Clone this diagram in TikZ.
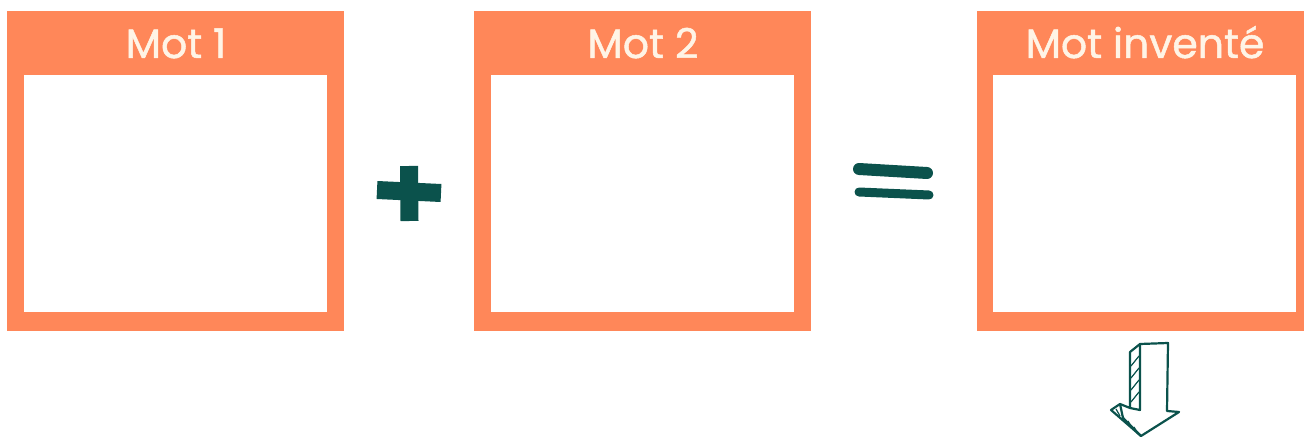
\documentclass[tikz,border=0pt]{standalone}
\usepackage{fontspec}
\setmainfont{Poppins}
\newfontfamily\titlefont{Poppins}[FakeBold=1.2]
\usepackage{xcolor}
\definecolor{boxorange}{HTML}{FF8759}
\definecolor{titlecream}{HTML}{FFF4E6}
\definecolor{signteal}{HTML}{0B524C}
\tikzset{
  outerbox/.style={fill=boxorange, minimum width=337pt, minimum height=320pt, inner sep=0pt},
  innerbox/.style={fill=white, minimum width=303pt, minimum height=237pt, inner sep=0pt},
  boxtitle/.style={anchor=base, text=titlecream, font=\titlefont\fontsize{41}{46}\selectfont},
  sign/.style={draw=signteal, line cap=round},
}

\begin{document}
\begin{tikzpicture}[x=1pt, y=-1pt]
        \useasboundingbox (0,0) rectangle (1304,438);
        \clip (0,0) rectangle (1304,438);
        % Boxes
        \node[outerbox] (B1) at (175.5,171) {};
        \node[innerbox] (I1) at (175.5,193.5) {};
        \node[boxtitle] (T1) at (176,58) {Mot 1};
        \node[outerbox] (B2) at (642.5,171) {};
        \node[innerbox] (I2) at (642.5,193.5) {};
        \node[boxtitle] (T2) at (643,58) {Mot 2};
        \node[outerbox] (B3) at (1145.5,171) {};
        \node[innerbox] (I3) at (1144.5,193.5) {};
        \node[boxtitle] (T3) at (1145,58) {Mot invent\'e};
        % Plus
        \draw[sign, line width=18pt, line cap=butt] (409,166) -- (409.5,221);
        \draw[sign, line width=18pt, line cap=butt] (377,190) -- (441,193);
        % Equals
        \draw[sign, line width=12pt] (859,169) -- (927,173);
        \draw[sign, line width=9pt] (859,192) -- (929,195);
        % Arrow
        \begin{scope}[draw=signteal, line width=2.2pt, line join=round]
          \draw (1140,344) -- (1168,343) -- (1167,411) -- (1179,412) -- (1141,436) -- (1111,410) -- (1120,404) -- (1130,408) -- (1130,352) -- cycle;
          \draw (1140,344) -- (1140,410) -- (1130,408);
          \draw (1120,404) -- (1123,418) -- (1141,436);
          \foreach \y in {360,372,384,396} {
            \draw[line width=1.2pt] (1131,\y+6) -- (1139,\y-4);
          }
          \foreach \x in {1116,1122,1128,1134} {
            \draw[line width=1.2pt] (\x,\x-1114+407) -- (\x+4,\x-1114+414);
          }
        \end{scope}
\end{tikzpicture}
\end{document}
